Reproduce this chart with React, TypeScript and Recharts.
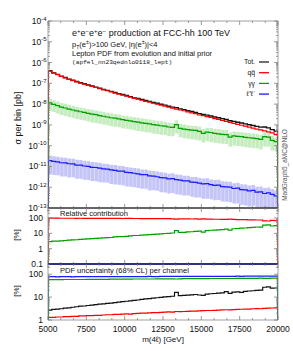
import React from 'react';
import { ComposedChart, Line, Area, XAxis, YAxis } from 'recharts';

// lower edges of the 250 GeV bins, m(4l) in GeV
const binLow = [
  5000, 5250, 5500, 5750, 6000, 6250, 6500, 6750, 7000, 7250,
  7500, 7750, 8000, 8250, 8500, 8750, 9000, 9250, 9500, 9750,
  10000, 10250, 10500, 10750, 11000, 11250, 11500, 11750, 12000, 12250,
  12500, 12750, 13000, 13250, 13500, 13750, 14000, 14250, 14500, 14750,
  15000, 15250, 15500, 15750, 16000, 16250, 16500, 16750, 17000, 17250,
  17500, 17750, 18000, 18250, 18500, 18750, 19000, 19250, 19500, 19750,
];
const xEnd = 20000;

// sigma per bin [pb]
const sigmaTot = [
  4.0e-7, 3.2e-7, 2.7e-7, 2.2e-7, 1.9e-7, 1.6e-7, 1.4e-7, 1.23e-7, 1.07e-7, 9.5e-8,
  8.3e-8, 7.4e-8, 6.6e-8, 5.8e-8, 5.1e-8, 4.6e-8, 4.1e-8, 3.6e-8, 3.2e-8, 2.9e-8,
  2.6e-8, 2.3e-8, 2.0e-8, 1.86e-8, 1.66e-8, 1.48e-8, 1.35e-8, 1.2e-8, 1.1e-8, 9.8e-9,
  8.9e-9, 7.9e-9, 7.2e-9, 6.8e-9, 5.9e-9, 5.4e-9, 4.8e-9, 4.4e-9, 4.0e-9, 3.5e-9,
  3.2e-9, 2.95e-9, 2.7e-9, 2.4e-9, 2.2e-9, 2.0e-9, 1.82e-9, 1.58e-9, 1.48e-9, 1.35e-9,
  1.23e-9, 1.12e-9, 1.02e-9, 9.3e-10, 8.5e-10, 7.8e-10, 7.9e-10, 7.2e-10, 5.9e-10, 5.0e-10,
];
const sigmaQQ = [
  3.9e-7, 3.1e-7, 2.62e-7, 2.13e-7, 1.84e-7, 1.54e-7, 1.35e-7, 1.18e-7, 1.03e-7, 9.1e-8,
  7.9e-8, 7.1e-8, 6.3e-8, 5.5e-8, 4.8e-8, 4.4e-8, 3.9e-8, 3.4e-8, 3.0e-8, 2.7e-8,
  2.43e-8, 2.15e-8, 1.86e-8, 1.73e-8, 1.53e-8, 1.36e-8, 1.24e-8, 1.1e-8, 1.0e-8, 8.9e-9,
  8.0e-9, 7.1e-9, 6.4e-9, 5.8e-9, 5.2e-9, 4.8e-9, 4.2e-9, 3.8e-9, 3.5e-9, 3.0e-9,
  2.8e-9, 2.5e-9, 2.3e-9, 2.0e-9, 1.83e-9, 1.65e-9, 1.48e-9, 1.32e-9, 1.19e-9, 1.07e-9,
  9.6e-10, 8.7e-10, 7.8e-10, 7.0e-10, 6.3e-10, 5.8e-10, 5.2e-10, 4.6e-10, 4.1e-10, 3.4e-10,
];
const sigmaAA = [
  1.15e-8, 9.8e-9, 8.5e-9, 7.2e-9, 6.5e-9, 5.8e-9, 5.2e-9, 4.7e-9, 4.3e-9, 4.0e-9,
  3.6e-9, 3.3e-9, 3.1e-9, 2.8e-9, 2.6e-9, 2.4e-9, 2.2e-9, 2.1e-9, 1.95e-9, 1.78e-9,
  1.66e-9, 1.55e-9, 1.45e-9, 1.35e-9, 1.26e-9, 1.17e-9, 1.12e-9, 1.02e-9, 9.8e-10, 9.1e-10,
  8.7e-10, 7.9e-10, 7.6e-10, 1.02e-9, 6.8e-10, 6.3e-10, 5.9e-10, 5.6e-10, 5.4e-10, 4.9e-10,
  3.9e-10, 4.5e-10, 4.3e-10, 3.9e-10, 3.7e-10, 3.5e-10, 3.4e-10, 2.6e-10, 2.95e-10, 2.8e-10,
  2.7e-10, 2.5e-10, 2.4e-10, 2.3e-10, 2.2e-10, 2.0e-10, 2.7e-10, 2.6e-10, 1.78e-10, 1.58e-10,
];
const sigmaLL = [
  1.9e-11, 1.74e-11, 1.66e-11, 1.51e-11, 1.48e-11, 1.35e-11, 1.32e-11, 1.17e-11, 1.15e-11, 1.05e-11,
  1.0e-11, 9.1e-12, 8.9e-12, 8.3e-12, 7.6e-12, 7.4e-12, 6.8e-12, 6.5e-12, 6.0e-12, 5.9e-12,
  5.2e-12, 5.0e-12, 4.7e-12, 4.4e-12, 4.0e-12, 4.0e-12, 3.5e-12, 3.4e-12, 3.2e-12, 2.9e-12,
  2.8e-12, 2.5e-12, 2.6e-12, 2.3e-12, 2.2e-12, 2.0e-12, 2.0e-12, 1.74e-12, 1.7e-12, 1.58e-12,
  1.45e-12, 1.48e-12, 1.32e-12, 1.23e-12, 1.26e-12, 1.07e-12, 1.05e-12, 1.0e-12, 8.7e-13, 9.1e-13,
  7.6e-13, 7.4e-13, 6.6e-13, 7.1e-13, 5.8e-13, 6.0e-13, 5.0e-13, 5.4e-13, 4.5e-13, 3.8e-13,
];

// PDF uncertainty (68% CL) per channel [%]
const uncTot = [
  2.7, 2.9, 3.0, 3.1, 3.3, 3.4, 3.6, 3.8, 4.0, 4.1,
  4.3, 4.5, 4.7, 4.9, 5.1, 5.3, 5.5, 5.8, 6.0, 6.3,
  6.6, 6.9, 7.2, 7.5, 7.9, 8.3, 8.6, 9.0, 9.4, 9.8,
  10.2, 10.5, 10.9, 16.0, 11.6, 11.9, 12.2, 12.6, 13.0, 12.4,
  11.8, 13.6, 14.0, 14.4, 14.9, 15.4, 17.5, 14.5, 16.5, 17.0,
  16.2, 17.8, 18.5, 19.0, 19.6, 20.2, 27.0, 28.0, 24.5, 25.0,
];
const uncQQ = [
  1.3, 1.3, 1.35, 1.35, 1.4, 1.4, 1.45, 1.45, 1.5, 1.5,
  1.55, 1.55, 1.6, 1.6, 1.65, 1.7, 1.7, 1.75, 1.75, 1.8,
  1.85, 1.8, 1.9, 1.95, 2.0, 2.0, 2.05, 2.1, 2.1, 2.15,
  2.2, 2.25, 2.2, 2.35, 2.3, 2.35, 2.4, 2.45, 2.45, 2.5,
  2.55, 2.6, 2.6, 2.65, 2.7, 2.75, 2.8, 2.75, 2.85, 2.9,
  2.95, 3.0, 3.0, 3.1, 3.15, 3.1, 3.25, 3.3, 3.35, 3.4,
];
const uncAA = [
  58, 58, 58, 58, 59, 59, 59, 59, 59, 59,
  60, 60, 60, 60, 60, 60, 61, 61, 61, 61,
  61, 61, 62, 62, 62, 62, 62, 62, 63, 63,
  63, 63, 63, 62, 63, 64, 64, 64, 64, 64,
  64, 64, 65, 65, 65, 65, 65, 65, 65, 66,
  66, 66, 66, 66, 66, 67, 66, 66, 67, 67,
];
const uncLL = [
  78, 78, 77, 78, 78, 78, 77, 78, 78, 78,
  78, 78, 78, 79, 78, 78, 79, 79, 78, 79,
  79, 79, 79, 79, 79, 79, 80, 79, 79, 80,
  80, 80, 80, 80, 80, 80, 80, 80, 81, 80,
  81, 81, 80, 81, 81, 81, 81, 81, 81, 82,
  81, 82, 82, 82, 82, 82, 82, 82, 83, 83,
];

const legendItems = [
  { label: 'Tot.', color: '#222222' },
  { label: 'qq\u0304', color: '#ff0000' },
  { label: '\u03b3\u03b3', color: '#00a000' },
  { label: '\u2113\u207a\u2113\u207b', color: '#1a1aff' },
];

const W = 293;
const H = 351;
const LEFT = 48;
const RIGHT = 15;
const FONT = '"Liberation Sans", Arial, Helvetica, sans-serif';
const FLOOR = 1e-30; // histogram edges drop to zero outside the range
const TICK = '#808080';

// axis tick helpers
const xTicks: number[] = [];
for (let k = 0; k <= 18; k++) xTicks.push(5000 + (k * 2500) / 3);
const isMajorX = (v: number) => Math.abs((v - 5000) / 2500 - Math.round((v - 5000) / 2500)) < 1e-6;

function logTicks(lo: number, hi: number, extra: number[] = []) {
  const out: number[] = [];
  for (let e = lo; e <= hi; e++) {
    out.push(Number(`1e${e}`));
    if (e < hi) for (let m = 2; m <= 9; m++) out.push(Number(`${m}e${e}`));
  }
  return out.concat(extra);
}
const isMajorY = (v: number) => Math.abs(Math.log10(v) - Math.round(Math.log10(v))) < 1e-6;

const xTick = (side: 'top' | 'bottom', labels: boolean) => (p: any) => {
  const v = p.payload.value;
  const major = isMajorX(v);
  const len = major ? 4 : 2;
  const dir = side === 'bottom' ? -1 : 1;
  return (
    <g>
      <line x1={p.x} x2={p.x} y1={p.y} y2={p.y + dir * len} stroke={TICK} strokeWidth={0.8} />
      {labels && major && (
        <text x={p.x} y={p.y + 12} textAnchor="middle" fontSize={8.5} fontFamily={FONT} fill="#111">
          {Math.round(v)}
        </text>
      )}
    </g>
  );
};

const yTick = (side: 'left' | 'right', mode: 'pow' | 'plain' | 'none') => (p: any) => {
  const v = p.payload.value;
  const major = isMajorY(v);
  const len = major ? 4 : 2;
  const dir = side === 'left' ? 1 : -1;
  return (
    <g>
      <line x1={p.x} x2={p.x + dir * len} y1={p.y} y2={p.y} stroke={TICK} strokeWidth={0.8} />
      {mode === 'pow' && major && (
        <text x={p.x - 1.5} y={p.y + 3} textAnchor="end" fontSize={8.5} fontFamily={FONT} fill="#111">
          10<tspan dy={-3.5} fontSize={6}>{Math.round(Math.log10(v))}</tspan>
        </text>
      )}
      {mode === 'plain' && major && (
        <text x={p.x - 5} y={p.y + 3} textAnchor="end" fontSize={8.5} fontFamily={FONT} fill="#111">
          {v}
        </text>
      )}
    </g>
  );
};

const band = (v: number, u: number) => [v * (1 - u / 100), v * (1 + u / 100)];
const last = binLow.length - 1;

const topRows = [
  { x: binLow[0], tot: FLOOR, qq: FLOOR, aa: FLOOR, ll: FLOOR },
  ...binLow.map((x, i) => ({
    x,
    tot: sigmaTot[i],
    qq: sigmaQQ[i],
    aa: sigmaAA[i],
    ll: sigmaLL[i],
    aaBand: band(sigmaAA[i], uncAA[i]),
    llBand: band(sigmaLL[i], uncLL[i]),
  })),
  {
    x: xEnd, tot: FLOOR, qq: FLOOR, aa: FLOOR, ll: FLOOR,
    aaBand: band(sigmaAA[last], uncAA[last]),
    llBand: band(sigmaLL[last], uncLL[last]),
  },
];

const ratioRows = [
  { x: binLow[0], qq: FLOOR, aa: FLOOR },
  ...binLow.map((x, i) => ({
    x,
    qq: (100 * sigmaQQ[i]) / sigmaTot[i],
    aa: (100 * sigmaAA[i]) / sigmaTot[i],
  })),
  { x: xEnd, qq: FLOOR, aa: FLOOR },
];

const uncRows = [
  { x: binLow[0], tot: FLOOR, qq: FLOOR, aa: FLOOR, ll: FLOOR },
  ...binLow.map((x, i) => ({ x, tot: uncTot[i], qq: uncQQ[i], aa: uncAA[i], ll: uncLL[i] })),
  { x: xEnd, tot: FLOOR, qq: FLOOR, aa: FLOOR, ll: FLOOR },
];

// axes are 1px thick so Recharts still draws them; margins compensate
const chartMargin = (top: number, bottom: number) => ({
  top: top - 1,
  bottom: H - bottom - 1,
  left: LEFT - 1,
  right: RIGHT - 1,
});

function panelAxes(
  yDomain: [number, number],
  yTicks: number[],
  yMode: 'pow' | 'plain',
  xLabels: boolean,
  topLine: any,
  bottomLine: any,
) {
  return [
    <XAxis
      key="xb" xAxisId="b" dataKey="x" type="number" domain={[5000, xEnd]} allowDataOverflow
      ticks={xTicks} interval={0} height={1} tickSize={0} tickMargin={0} tickLine={false}
      axisLine={bottomLine} tick={xTick('bottom', xLabels)}
    />,
    <XAxis
      key="xt" xAxisId="t" orientation="top" dataKey="x" type="number" domain={[5000, xEnd]} allowDataOverflow
      ticks={xTicks} interval={0} height={1} tickSize={0} tickMargin={0} tickLine={false}
      axisLine={topLine} tick={xTick('top', false)}
    />,
    <YAxis
      key="yl" yAxisId="l" scale="log" type="number" domain={yDomain} allowDataOverflow
      ticks={yTicks} interval={0} width={1} tickSize={0} tickMargin={0} tickLine={false}
      axisLine={{ stroke: '#888', strokeWidth: 0.8 }} tick={yTick('left', yMode)}
    />,
    <YAxis
      key="yr" yAxisId="r" orientation="right" scale="log" type="number" domain={yDomain} allowDataOverflow
      ticks={yTicks} interval={0} width={1} tickSize={0} tickMargin={0} tickLine={false}
      axisLine={{ stroke: '#888', strokeWidth: 0.8 }} tick={yTick('right', 'none')}
    />,
  ];
}

const series = { xAxisId: 'b', yAxisId: 'l', type: 'stepAfter' as const, dot: false, isAnimationActive: false };

function TopPanel() {
  return (
    <ComposedChart width={W} height={H} data={topRows} margin={chartMargin(21, 208)}>
      <defs>
        <pattern id="aaStripes" patternUnits="userSpaceOnUse" x={LEFT} y={0} width={230 / 60} height={6}>
          <rect width={230 / 60} height={6} fill="#c5ecbf" />
          <rect width={0.7} height={6} fill="#e6f7e3" />
        </pattern>
        <pattern id="llStripes" patternUnits="userSpaceOnUse" x={LEFT} y={0} width={230 / 60} height={6}>
          <rect width={230 / 60} height={6} fill="#c4c4f7" />
          <rect width={0.7} height={6} fill="#e2e2fc" />
        </pattern>
      </defs>
      {panelAxes([1e-13, 1e-4], logTicks(-13, -4), 'pow', false, { stroke: '#888', strokeWidth: 0.8 }, { stroke: '#333', strokeWidth: 1 })}
      <Area {...series} dataKey="aaBand" stroke="none" fill="url(#aaStripes)" fillOpacity={1} />
      <Area {...series} dataKey="llBand" stroke="none" fill="url(#llStripes)" fillOpacity={1} />
      <Line {...series} dataKey="tot" stroke="#111" strokeWidth={1.4} />
      <Line {...series} dataKey="qq" stroke="#ff0000" strokeWidth={1.2} />
      <Line {...series} dataKey="aa" stroke="#00a000" strokeWidth={1.2} />
      <Line {...series} dataKey="ll" stroke="#1a1aff" strokeWidth={1.2} />
    </ComposedChart>
  );
}

function RatioPanel() {
  return (
    <ComposedChart width={W} height={H} data={ratioRows} margin={chartMargin(208, 264)}>
      {panelAxes([0.1, 450], logTicks(-1, 2, [200, 300, 400]), 'plain', false, { stroke: '#333', strokeWidth: 1 }, { stroke: '#23237a', strokeWidth: 1.6 })}
      <Line {...series} dataKey="aa" stroke="#00a000" strokeWidth={1.2} />
      <Line {...series} dataKey="qq" stroke="#ff0000" strokeWidth={1.2} />
    </ComposedChart>
  );
}

function UncPanel() {
  return (
    <ComposedChart width={W} height={H} data={uncRows} margin={chartMargin(264, 320)}>
      {panelAxes([1, 280], logTicks(0, 2, [200]), 'plain', true, { stroke: '#23237a', strokeWidth: 1.6 }, { stroke: '#888', strokeWidth: 0.8 })}
      <Line {...series} dataKey="tot" stroke="#111" strokeWidth={1.2} />
      <Line {...series} dataKey="qq" stroke="#ff0000" strokeWidth={1.2} />
      <Line {...series} dataKey="ll" stroke="#1a1aff" strokeWidth={1.2} />
      <Line {...series} dataKey="aa" stroke="#00a000" strokeWidth={1.2} />
    </ComposedChart>
  );
}

function Labels() {
  const t = { fontFamily: FONT, fill: '#111' };
  return (
    <svg width={W} height={H} style={{ position: 'absolute', left: 0, top: 0, pointerEvents: 'none' }}>
      <text x={72} y={36} fontSize={9} {...t}>
        e<tspan dy={-3.5} fontSize={6}>+</tspan>
        <tspan dy={3.5}>e</tspan><tspan dy={-3.5} fontSize={6}>{'\u2212'}</tspan>
        <tspan dy={3.5}>e</tspan><tspan dy={-3.5} fontSize={6}>+</tspan>
        <tspan dy={3.5}>e</tspan><tspan dy={-3.5} fontSize={6}>{'\u2212'}</tspan>
        <tspan dy={3.5}> production at FCC-hh 100 TeV</tspan>
      </text>
      <text x={72} y={47} fontSize={7.5} {...t}>
        p<tspan dy={1.8} fontSize={5.2}>T</tspan>
        <tspan dy={-1.8}>(e</tspan><tspan dy={-3} fontSize={5.2}>{'\u00b1'}</tspan>
        <tspan dy={3}>){'>'}100 GeV, |{'\u03b7'}(e</tspan><tspan dy={-3} fontSize={5.2}>{'\u00b1'}</tspan>
        <tspan dy={3}>)|{'<'}4</tspan>
      </text>
      <text x={72} y={55.5} fontSize={7.5} {...t}>Lepton PDF from evolution and initial prior</text>
      <text x={72} y={64} fontSize={6.2} fontFamily='"Liberation Mono", "DejaVu Sans Mono", monospace' fill="#111">
        (apfel_nn23qednlo0118_lept)
      </text>

      {legendItems.map((it, i) => {
        const y = 62 + i * 10.7;
        return (
          <g key={it.label}>
            <text x={255} y={y + 2.3} textAnchor="end" fontSize={6.8} {...t}>{it.label}</text>
            <line x1={259} x2={269} y1={y} y2={y} stroke={it.color} strokeWidth={1.3} />
          </g>
        );
      })}

      <text transform="translate(20.5,118) rotate(-90)" textAnchor="middle" fontSize={9} {...t}>
        {'\u03c3'} per bin [pb]
      </text>
      <text transform="translate(18.5,235) rotate(-90)" textAnchor="middle" fontSize={8} {...t}>[%]</text>
      <text transform="translate(18.5,291) rotate(-90)" textAnchor="middle" fontSize={8} {...t}>[%]</text>
      <text transform="translate(286.5,165) rotate(-90)" textAnchor="middle" fontSize={6.5} fontFamily={FONT} fill="#555">
        MadGraph5_aMC@NLO
      </text>

      <text x={60} y={216} fontSize={7.5} {...t}>Relative contribution</text>
      <text x={60} y={272.5} fontSize={7.5} {...t}>PDF uncertainty (68% CL) per channel</text>
      <text x={163} y={342} textAnchor="middle" fontSize={8} {...t}>m(4{'\u2113'}) [GeV]</text>
    </svg>
  );
}

export default function App() {
  return (
    <div style={{ position: 'absolute', left: 0, top: 0, width: W, height: H, background: '#fff', overflow: 'hidden' }}>
      <div style={{ position: 'absolute', left: 0, top: 0 }}><TopPanel /></div>
      <div style={{ position: 'absolute', left: 0, top: 0 }}><RatioPanel /></div>
      <div style={{ position: 'absolute', left: 0, top: 0 }}><UncPanel /></div>
      <Labels />
    </div>
  );
}
